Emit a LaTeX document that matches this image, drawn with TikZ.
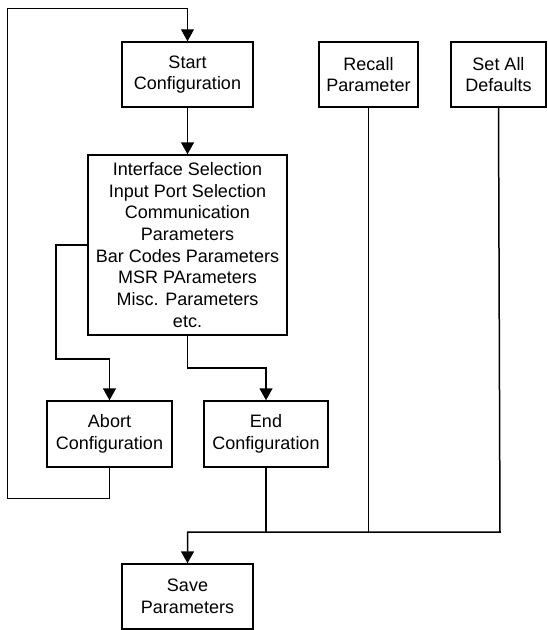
\documentclass[tikz,border=0pt]{standalone}
\usepackage{fontspec}
\setmainfont{Liberation Sans}
\usepackage{tikz}
\usetikzlibrary{positioning,calc,arrows.meta}

\tikzset{
    box/.style={draw, line width=1.5pt, minimum height=65pt, inner sep=0pt, align=center, font=\fontsize{18}{21.7}\selectfont},
    wire/.style={line width=1.5pt},
    thinwire/.style={line width=1pt},
    flow/.style={wire, -{Triangle[length=12pt,width=13pt]}}
}

\begin{document}
\begin{tikzpicture}[x=1pt,y=-1pt]
    \useasboundingbox (0,0) rectangle (547,630);

    % Boxes
    \node[box, minimum width=131pt] (start) at (187.5,74.5) {Start\\Configuration};
    \node[box, minimum width=99pt] (recall) at (368.5,74.5) {Recall\\Parameter};
    \node[box, minimum width=95pt] (setall) at (498.5,74.5) {Set All\\Defaults};
    \node[box, minimum width=199pt, minimum height=180pt] (params) at (187.5,245) {Interface Selection\\Input Port Selection\\Communication\\Parameters\\Bar Codes Parameters\\MSR PArameters\\Misc. Parameters\\etc.};
    \node[box, minimum width=125pt, minimum height=66pt] (abort) at (109.5,434) {Abort\\Configuration};
    \node[box, minimum width=124pt, minimum height=66pt] (endcfg) at (266,434) {End\\Configuration};
    \node[box, minimum width=131pt] (save) at (187.5,596.5) {Save\\Parameters};

    % Bends
    \coordinate (loopB) at (7,498);
    \coordinate (loopT) at (7,8.5);
    \coordinate (abortBend) at (56,359);
    \coordinate (endBend) at (187.5,368);
    \coordinate (bus) at (500,532);

    % Loop back to start
    \draw[thinwire, -{Triangle[length=12pt,width=13pt]}] (abort.south) |- (loopB) -- (loopT) -| (start.north);

    % Main flow
    \draw[flow] (start.south) -- (params.north);
    \draw[flow] (params.west) -| (abortBend) -| (abort.north);
    \draw[flow] (params.south) -- (endBend) -| (endcfg.north);

    % Collecting bus to save
    \draw[flow] (setall.south) -- (bus) -| (save.north);
    \draw[wire] (endcfg.south) -- (endcfg.south |- bus);
    \draw[thinwire] (recall.south) -- (recall.south |- bus);
\end{tikzpicture}
\end{document}
